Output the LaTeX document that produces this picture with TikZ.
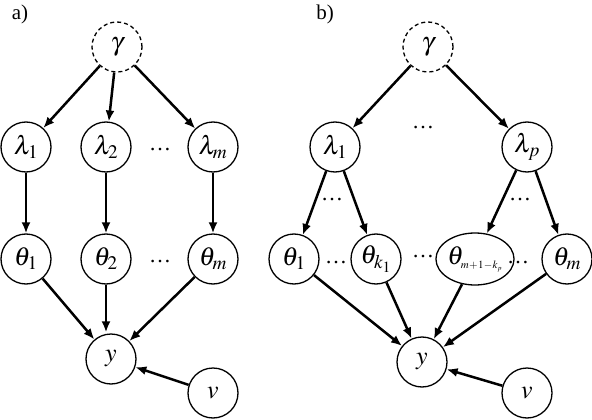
\documentclass[tikz,border=0pt]{standalone}
\usepackage{mathptmx}
\usepackage{fontspec}
\setmainfont{Liberation Serif}
\usetikzlibrary{arrows.meta,shapes.geometric}
\begin{document}
\begin{tikzpicture}[x=1pt,y=-1pt,
  var/.style={circle,draw,line width=1.3pt,minimum size=50pt,inner sep=0pt,font=\fontsize{26}{28}\selectfont},
  hyper/.style={var,dashed,dash pattern=on 4pt off 3pt},
  wide/.style={ellipse,draw,line width=1.3pt,minimum width=62pt,minimum height=52pt,inner sep=0pt,font=\fontsize{26}{28}\selectfont},
  edge/.style={line width=2.5pt,-{Latex[length=11pt,width=9pt]}},
  dots/.style={font=\fontsize{22}{26}\selectfont},
  lab/.style={font=\fontsize{21}{24}\selectfont}]
\useasboundingbox (0,0) rectangle (592,420);
% panel a
\node[lab] (la) at (20,14) {a)};
\node[hyper] (ga) at (117,47) {$\gamma$};
\node[var] (a1) at (26,147) {$\lambda_1$};
\node[var] (a2) at (106,147) {$\lambda_2$};
\node[var] (am) at (213,147) {$\lambda_m$};
\node[dots] (ad1) at (160,150) {\ldots};
\node[var] (t1) at (26,259) {$\theta_1$};
\node[var] (t2) at (106,259) {$\theta_2$};
\node[var] (tm) at (213,259) {$\theta_m$};
\node[dots] (ad2) at (160,262) {\ldots};
\node[var] (ya) at (111,359) {$y$};
\node[var] (va) at (213,393) {$v$};
\draw[edge] (ga) -- (a1);
\draw[edge] (ga) -- (a2);
\draw[edge] (ga) -- (am);
\draw[edge] (a1) -- (t1);
\draw[edge] (a2) -- (t2);
\draw[edge] (am) -- (tm);
\draw[edge] (t1) -- (ya);
\draw[edge] (t2.south) -- ([yshift=1pt]ya.north -| t2);
\draw[edge] (tm) -- (ya);
\draw[edge] (va) -- (ya);
% panel b
\node[lab] (lb) at (325,14) {b)};
\node[hyper] (gb) at (428,47) {$\gamma$};
\node[var] (b1) at (335,147) {$\lambda_1$};
\node[var] (bp) at (527,147) {$\lambda_p$};
\node[dots] (bd1) at (423,128) {\ldots};
\node[dots] (bd2) at (332,200) {\ldots};
\node[dots] (bd3) at (520,200) {\ldots};
\node[var] (s1) at (294,259) {$\theta_1$};
\node[var] (sk) at (376,259) {$\theta_{k_1}$};
\node[wide] (sj) at (475,259) {$\theta_{\hbox{\fontsize{11}{11}\selectfont$m\!+\!1\!-\!k_{\hbox{\fontsize{7}{7}\selectfont$p$}}$}}$};
\node[var] (sm) at (567,259) {$\theta_m$};
\node[dots] (bd4) at (336,263) {\ldots};
\node[dots] (bd5) at (423,257) {\ldots};
\node[dots] (bd6) at (518,263) {\ldots};
\node[var] (yb) at (422,362) {$y$};
\node[var] (vb) at (527,393) {$v$};
\draw[edge] (gb) -- (b1);
\draw[edge] (gb) -- (bp);
\draw[edge] (b1) -- (s1);
\draw[edge] (b1) -- (sk);
\draw[edge] (bp) -- (sj);
\draw[edge] (bp) -- (sm);
\draw[edge] (s1) -- (yb);
\draw[edge] (sk) -- (yb);
\draw[edge] (sj) -- (yb);
\draw[edge] (sm) -- (yb);
\draw[edge] (vb) -- (yb);
\end{tikzpicture}
\end{document}
